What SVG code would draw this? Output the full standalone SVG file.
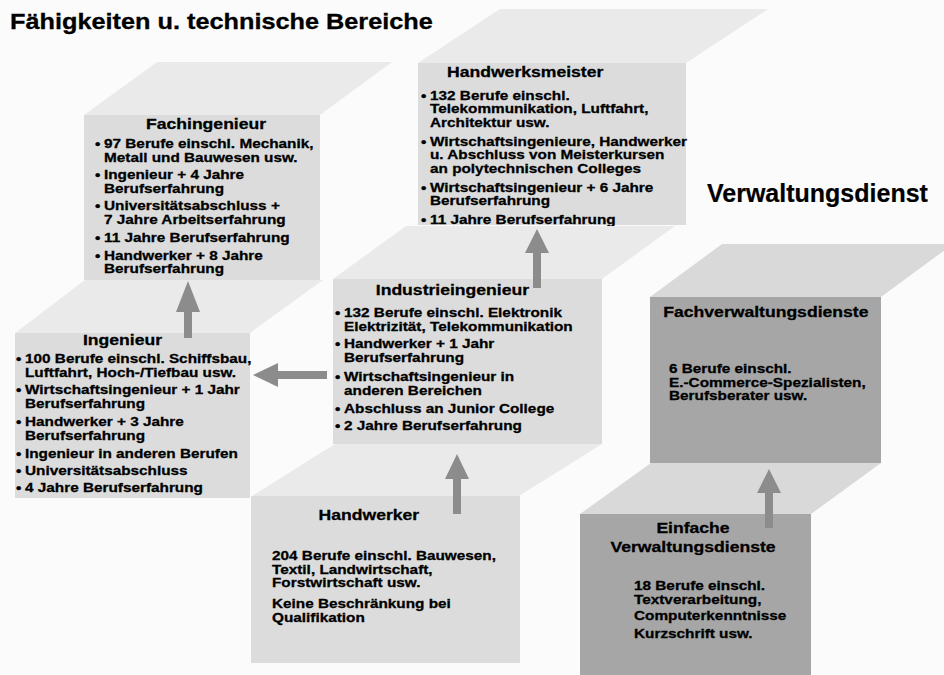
<svg xmlns="http://www.w3.org/2000/svg" width="944" height="675" viewBox="0 0 944 675">
<style>
text{font-family:"Liberation Sans",Arial,sans-serif;font-weight:bold;fill:#000;stroke:#000;stroke-width:0.3}
.b{font-size:13.5px}
.h{font-size:15.5px}
.tf{fill:#dcdcdc}
.tt{fill:#eaeaea}
.af{fill:#a6a6a6}
.at{fill:#d9d9d9}
.arr{fill:#8c8c8c}
</style>
<rect width="944" height="675" fill="#fbfbfb"/>
<g transform="translate(10 0) scale(1.15 1)"><text x="0" y="29" style="font-size:22px">Fähigkeiten u. technische Bereiche</text></g>
<text x="707" y="202" style="font-size:25px;stroke-width:0.2">Verwaltungsdienst</text>

<g id="handwerksmeister">
<polygon class="tt" points="418,63 500,9 768,9 686,63"/>
<rect class="tf" x="418" y="63" width="268" height="162"/>
<g transform="translate(430 0) scale(1.135 1)">
<text class="h" x="15" y="77">Handwerksmeister</text>
<text class="b" y="100"><tspan x="-8">•</tspan><tspan x="0">132 Berufe einschl.</tspan></text>
<text class="b" x="0" y="113.5">Telekommunikation, Luftfahrt,</text>
<text class="b" x="0" y="127">Architektur usw.</text>
<text class="b" y="146"><tspan x="-8">•</tspan><tspan x="0">Wirtschaftsingenieure, Handwerker</tspan></text>
<text class="b" x="0" y="159.5">u. Abschluss von Meisterkursen</text>
<text class="b" x="0" y="173">an polytechnischen Colleges</text>
<text class="b" y="192"><tspan x="-8">•</tspan><tspan x="0">Wirtschaftsingenieur + 6 Jahre</tspan></text>
<text class="b" x="0" y="205.5">Berufserfahrung</text>
<text class="b" y="224"><tspan x="-8">•</tspan><tspan x="0">11 Jahre Berufserfahrung</tspan></text>
</g>
</g>

<g id="fachingenieur">
<polygon class="tt" points="84,115 157,62 392,62 320,115"/>
<rect class="tf" x="84" y="115" width="236" height="165"/>
<g transform="translate(104 0) scale(1.135 1)">
<text class="h" x="37" y="129">Fachingenieur</text>
<text class="b" y="148.5"><tspan x="-8">•</tspan><tspan x="0">97 Berufe einschl. Mechanik,</tspan></text>
<text class="b" x="0" y="162">Metall und Bauwesen usw.</text>
<text class="b" y="179.5"><tspan x="-8">•</tspan><tspan x="0">Ingenieur + 4 Jahre</tspan></text>
<text class="b" x="0" y="193">Berufserfahrung</text>
<text class="b" y="210.5"><tspan x="-8">•</tspan><tspan x="0">Universitätsabschluss +</tspan></text>
<text class="b" x="0" y="224">7 Jahre Arbeitserfahrung</text>
<text class="b" y="242"><tspan x="-8">•</tspan><tspan x="0">11 Jahre Berufserfahrung</tspan></text>
<text class="b" y="260"><tspan x="-8">•</tspan><tspan x="0">Handwerker + 8 Jahre</tspan></text>
<text class="b" x="0" y="273.5">Berufserfahrung</text>
</g>
</g>

<g id="industrieingenieur">
<polygon class="tt" points="333,279 406,226 675,226 602,279"/>
<rect class="tf" x="333" y="279" width="269" height="165"/>
<g transform="translate(344 0) scale(1.135 1)">
<text class="h" x="28" y="295">Industrieingenieur</text>
<text class="b" y="317"><tspan x="-8">•</tspan><tspan x="0">132 Berufe einschl. Elektronik</tspan></text>
<text class="b" x="0" y="331">Elektrizität, Telekommunikation</text>
<text class="b" y="348"><tspan x="-8">•</tspan><tspan x="0">Handwerker + 1 Jahr</tspan></text>
<text class="b" x="0" y="362">Berufserfahrung</text>
<text class="b" y="381"><tspan x="-8">•</tspan><tspan x="0">Wirtschaftsingenieur in</tspan></text>
<text class="b" x="0" y="395">anderen Bereichen</text>
<text class="b" y="413"><tspan x="-8">•</tspan><tspan x="0">Abschluss an Junior College</tspan></text>
<text class="b" y="430"><tspan x="-8">•</tspan><tspan x="0">2 Jahre Berufserfahrung</tspan></text>
</g>
</g>

<g id="ingenieur">
<polygon class="tt" points="15,333 85,280 323,280 250,333"/>
<rect class="tf" x="15" y="333" width="235" height="165"/>
<g transform="translate(25 0) scale(1.135 1)">
<text class="h" x="51" y="345">Ingenieur</text>
<text class="b" y="363"><tspan x="-8">•</tspan><tspan x="0">100 Berufe einschl. Schiffsbau,</tspan></text>
<text class="b" x="0" y="377">Luftfahrt, Hoch-/Tiefbau usw.</text>
<text class="b" y="394"><tspan x="-8">•</tspan><tspan x="0">Wirtschaftsingenieur + 1 Jahr</tspan></text>
<text class="b" x="0" y="408">Berufserfahrung</text>
<text class="b" y="426"><tspan x="-8">•</tspan><tspan x="0">Handwerker + 3 Jahre</tspan></text>
<text class="b" x="0" y="440">Berufserfahrung</text>
<text class="b" y="458"><tspan x="-8">•</tspan><tspan x="0">Ingenieur in anderen Berufen</tspan></text>
<text class="b" y="475"><tspan x="-8">•</tspan><tspan x="0">Universitätsabschluss</tspan></text>
<text class="b" y="492"><tspan x="-8">•</tspan><tspan x="0">4 Jahre Berufserfahrung</tspan></text>
</g>
</g>

<g id="handwerker">
<polygon class="tt" points="252,496 335,444 602,444 519,496"/>
<rect class="tf" x="251" y="496" width="269" height="167"/>
<g transform="translate(272 0) scale(1.135 1)">
<text class="h" x="41" y="520">Handwerker</text>
<text class="b" x="0" y="560.5">204 Berufe einschl. Bauwesen,</text>
<text class="b" x="0" y="574">Textil, Landwirtschaft,</text>
<text class="b" x="0" y="587.5">Forstwirtschaft usw.</text>
<text class="b" x="0" y="608">Keine Beschränkung bei</text>
<text class="b" x="0" y="622">Qualifikation</text>
</g>
</g>

<g id="fachverwaltungsdienste">
<polygon class="at" points="650,297 722,244 953,244 881,297"/>
<rect class="af" x="650" y="297" width="231" height="166"/>
<g transform="translate(669 0) scale(1.135 1)">
<text class="h" x="-5" y="317">Fachverwaltungsdienste</text>
<text class="b" x="0" y="373.5">6 Berufe  einschl.</text>
<text class="b" x="0" y="387">E.-Commerce-Spezialisten,</text>
<text class="b" x="0" y="400.5">Berufsberater usw.</text>
</g>
</g>

<g id="einfache-verwaltungsdienste">
<polygon class="at" points="580,514 651,463 881,463 811,514"/>
<rect class="af" x="580" y="514" width="231" height="161"/>
<g transform="translate(634 0) scale(1.135 1)">
<text class="h" x="52" y="533" text-anchor="middle">Einfache</text>
<text class="h" x="52" y="552" text-anchor="middle">Verwaltungsdienste</text>
<text class="b" x="0" y="590.5">18 Berufe einschl.</text>
<text class="b" x="0" y="604">Textverarbeitung,</text>
<text class="b" x="0" y="620">Computerkenntnisse</text>
<text class="b" x="0" y="638">Kurzschrift usw.</text>
</g>
</g>

<g id="connectors">
<polygon class="arr" points="188,281 200,312 192,312 192,338 184,338 184,312 176,312"/>
<polygon class="arr" points="253,375 278,363 278,371 327,371 327,379 278,379 278,387"/>
<polygon class="arr" points="537,229 549,253 541,253 541,288 533,288 533,253 525,253"/>
<polygon class="arr" points="457,454 469,479 461,479 461,514 453,514 453,479 445,479"/>
<polygon class="arr" points="769,469 781,493 773,493 773,528 765,528 765,493 757,493"/>
</g>
</svg>
